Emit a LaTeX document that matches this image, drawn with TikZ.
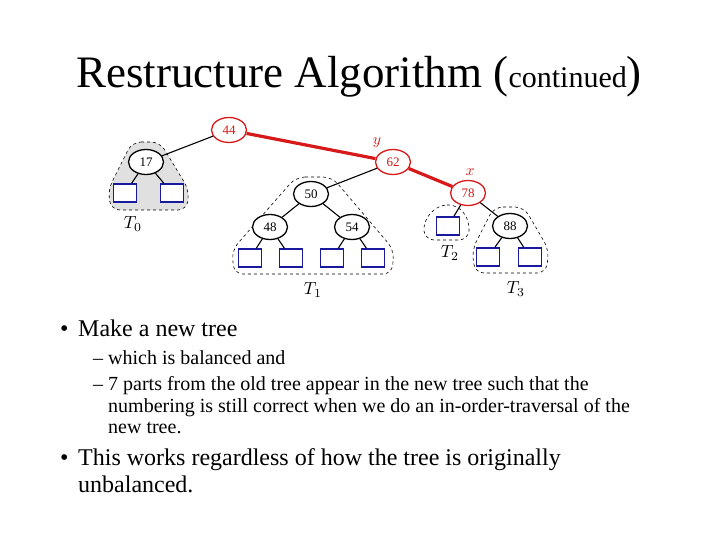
\documentclass[tikz,border=0pt]{standalone}
\usepackage{fontspec}
\setmainfont{Liberation Serif}
\usetikzlibrary{shapes.geometric}
\definecolor{rojo}{RGB}{215,25,25}
\definecolor{azul}{RGB}{25,25,160}

\begin{document}
\begin{tikzpicture}[x=1pt, y=-1pt,
    nodo/.style={ellipse, draw, fill=white, line width=1.3pt, minimum width=35pt, minimum height=25pt, inner sep=0pt, font=\fontsize{13}{15}\selectfont},
    nodorojo/.style={nodo, draw=rojo, text=rojo},
    hoja/.style={rectangle, draw=azul, fill=white, line width=1.7pt, minimum width=23pt, minimum height=18pt, inner sep=0pt},
    arista/.style={line width=1.1pt},
    aristaroja/.style={draw=rojo, line width=3.2pt},
    region/.style={dashed, line width=0.6pt, rounded corners=9pt},
    etiq/.style={scale=1.75, transform shape, inner sep=0pt},
    nivelA/.style={anchor=base west, inner sep=0pt, font=\fontsize{24}{28}\selectfont},
    nivelB/.style={anchor=base west, inner sep=0pt, font=\fontsize{20}{24}\selectfont}]
    \useasboundingbox (0,0) rectangle (720,540);

    % Titulo
    \node[anchor=base, inner sep=0pt] (titulo) at (359,88) {\fontsize{45}{50}\selectfont Restructure Algorithm (\fontsize{30}{32}\selectfont continued\fontsize{45}{50}\selectfont)};

    % Subarboles T0..T3 (regiones punteadas)
    \draw[region, fill=black!12] (132,142) -- (160,142) -- (189,190) -- (187,210) -- (111,210) -- (108,190) -- cycle;
    \draw[region] (296,177) -- (332,177) -- (394,250) -- (392,274) -- (234,274) -- (232,250) -- cycle;
    \draw[region] (438,205) -- (458,205) -- (470,222) -- (468,240) -- (425,240) -- (423,222) -- cycle;
    \draw[region] (494,207) -- (524,207) -- (549,250) -- (546,273) -- (475,273) -- (472,250) -- cycle;

    % Nodos internos
    \node[nodorojo] (n44) at (229,130) {44};
    \node[nodo] (n17) at (146,162) {17};
    \node[nodorojo] (n62) at (393,162) {62};
    \node[nodo] (n50) at (311,194) {50};
    \node[nodo] (n48) at (270,227) {48};
    \node[nodo] (n54) at (352,227) {54};
    \node[nodorojo] (n78) at (468,193) {78};
    \node[nodo] (n88) at (510,226) {88};

    % Hojas (cuadros azules)
    \node[hoja] (h0a) at (125,193) {};
    \node[hoja] (h0b) at (172,193) {};
    \node[hoja] (h1a) at (250,258) {};
    \node[hoja] (h1b) at (291,258) {};
    \node[hoja] (h1c) at (332,258) {};
    \node[hoja] (h1d) at (373,258) {};
    \node[hoja] (h2) at (448,226) {};
    \node[hoja] (h3a) at (488,257) {};
    \node[hoja] (h3b) at (530,257) {};

    % Aristas
    \draw[aristaroja] (n44) -- (n62);
    \draw[aristaroja] (n62) -- (n78);
    \draw[arista] (n44) -- (n17);
    \draw[arista] (n17) -- (h0a);
    \draw[arista] (n17) -- (h0b);
    \draw[arista] (n62) -- (n50);
    \draw[arista] (n50) -- (n48);
    \draw[arista] (n50) -- (n54);
    \draw[arista] (n48) -- (h1a);
    \draw[arista] (n48) -- (h1b);
    \draw[arista] (n54) -- (h1c);
    \draw[arista] (n54) -- (h1d);
    \draw[arista] (n78) -- (h2);
    \draw[arista] (n78) -- (n88);
    \draw[arista] (n88) -- (h3a);
    \draw[arista] (n88) -- (h3b);

    % Etiquetas
    \node[etiq, text=rojo, scale=0.9] (ly) at (377,143) {$y$};
    \node[etiq, text=rojo, scale=0.9] (lx) at (470,172) {$x$};
    \node[etiq] (t0) at (133,224) {$T_0$};
    \node[etiq] (t1) at (313,290) {$T_1$};
    \node[etiq] (t2) at (450,253) {$T_2$};
    \node[etiq] (t3) at (516,289) {$T_3$};

    % Texto con vinetas
    \node[nivelA] (v1) at (60,336) {•};
    \node[nivelA] (p1) at (78,336) {Make a new tree};
    \node[nivelB] (g1) at (93,364) {–};
    \node[nivelB] (p2) at (108,364) {which is balanced and};
    \node[nivelB] (g2) at (93,390) {–};
    \node[nivelB] (p3) at (108,390) {7 parts from the old tree appear in the new tree such that the};
    \node[nivelB] (p4) at (108,412) {numbering is still correct when we do an in-order-traversal of the};
    \node[nivelB] (p5) at (108,433) {new tree.};
    \node[nivelA] (v2) at (60,465) {•};
    \node[nivelA] (p6) at (78,465) {This works regardless of how the tree is originally};
    \node[nivelA] (p7) at (78,492) {unbalanced.};
\end{tikzpicture}
\end{document}
